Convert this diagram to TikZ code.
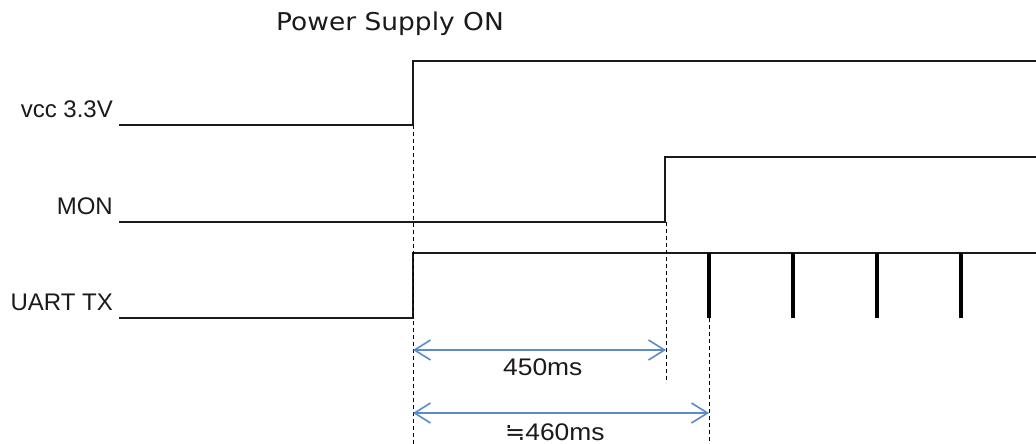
\documentclass[tikz,border=0pt]{standalone}
\usepackage{fontspec}
\setmainfont{Liberation Sans}
\newfontfamily\titlefont[FakeStretch=1.08]{DejaVu Sans}
\newfontfamily\dimfont[FakeStretch=1.1]{Liberation Sans}
\newfontfamily\symfont{DejaVu Sans}
\usetikzlibrary{arrows.meta}
\definecolor{arrowblue}{HTML}{5B8BC9}
\definecolor{sig}{HTML}{1A1A1A}
\tikzset{
  signal/.style={draw=sig, line width=1.6pt},
  pulse/.style={draw=black, line width=4pt},
  guide/.style={draw=black, line width=1pt, dash pattern=on 4pt off 3pt},
  dim/.style={draw=arrowblue, line width=1.6pt, {Straight Barb[length=16pt,width=20pt,line width=1.6pt]}-{Straight Barb[length=16pt,width=20pt,line width=1.6pt]}},
  lbl/.style={font=\fontsize{24}{26}\selectfont, text=sig, inner sep=0pt},
  dimlbl/.style={font=\fontsize{24}{26}\selectfont\dimfont, text=sig, inner sep=0pt},
}
\begin{document}
\begin{tikzpicture}[x=1pt,y=-1pt]
\useasboundingbox (0,0) rectangle (1036,444);
% labels
\node[lbl, anchor=base west, font=\fontsize{24.5}{26}\selectfont\titlefont] (title) at (276,31) {Power Supply ON};
\node[lbl, anchor=base east] (vcc) at (113,117) {vcc 3.3V};
\node[lbl, anchor=base east] (mon) at (113,214) {MON};
\node[lbl, anchor=base east] (uart) at (113,310) {UART TX};
% key coordinates
\coordinate (v0) at (119,125); \coordinate (v1) at (413,125);
\coordinate (v2) at (413,61);  \coordinate (v3) at (1036,61);
\coordinate (m0) at (119,222); \coordinate (m1) at (665,222);
\coordinate (m2) at (665,157); \coordinate (m3) at (1036,157);
\coordinate (u0) at (119,318); \coordinate (u1) at (413,318);
\coordinate (u2) at (413,253); \coordinate (u3) at (1036,253);
% signals
\draw[signal] (v0) -- (v1) -- (v2) -- (v3);
\draw[signal] (m0) -- (m1) -- (m2) -- (m3);
\draw[signal] (u0) -- (u1) -- (u2) -- (u3);
% pulses
\foreach \x [count=\i] in {709,793,877,961} {
  \coordinate (p\i t) at (\x,253);
  \coordinate (p\i b) at (\x,318);
  \draw[pulse] (p\i t) -- (p\i b);
}
% guide lines
\coordinate (g1) at (413,444);
\coordinate (g2) at (666,383);
\coordinate (g2t) at (666,222);
\coordinate (g3) at (709,444);
\draw[guide] (v1) -- (g1);
\draw[guide] (g2t) -- (g2);
\draw[guide] (p1b) -- (g3);
% dimension arrows
\coordinate (a1l) at (413,350); \coordinate (a1r) at (666,350);
\coordinate (a2l) at (413,413); \coordinate (a2r) at (709,413);
\draw[dim] (a1l) -- (a1r);
\draw[dim] (a2l) -- (a2r);
\node[dimlbl, anchor=base west] (t450) at (503,375) {450ms};
\node[dimlbl, anchor=base west] (t460) at (505,440) {{\symfont ≒}460ms};
\end{tikzpicture}
\end{document}
